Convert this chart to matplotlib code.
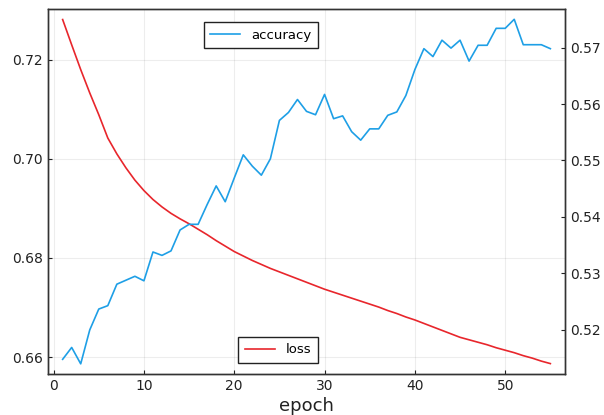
import matplotlib
matplotlib.use("Agg")
import matplotlib.pyplot as plt

# epochs 1..55
epochs = list(range(1, 56))

# training loss (left axis)
loss = [0.7281, 0.7230, 0.7180, 0.7133, 0.7089, 0.7042, 0.7010, 0.6982, 0.6957, 0.6936,
        0.6918, 0.6903, 0.6890, 0.6879, 0.6869, 0.6858, 0.6847, 0.6835, 0.6824, 0.6813,
        0.6804, 0.6795, 0.6787, 0.6779, 0.6772, 0.6765, 0.6758, 0.6751, 0.6744, 0.6737,
        0.6731, 0.6725, 0.6719, 0.6713, 0.6707, 0.6701, 0.6694, 0.6688, 0.6681, 0.6675,
        0.6668, 0.6661, 0.6654, 0.6647, 0.6640, 0.6635, 0.6630, 0.6625, 0.6619, 0.6614,
        0.6609, 0.6603, 0.6598, 0.6592, 0.6587]

# accuracy (right axis)
accuracy = [0.5148, 0.5169, 0.5140, 0.5200, 0.5237, 0.5243, 0.5281, 0.5288, 0.5295, 0.5287,
            0.5338, 0.5332, 0.5340, 0.5377, 0.5387, 0.5387, 0.5422, 0.5455, 0.5427, 0.5469,
            0.5510, 0.5490, 0.5474, 0.5503, 0.5571, 0.5585, 0.5608, 0.5587, 0.5581, 0.5617,
            0.5574, 0.5579, 0.5551, 0.5536, 0.5556, 0.5556, 0.5580, 0.5586, 0.5615, 0.5661,
            0.5698, 0.5684, 0.5713, 0.5699, 0.5713, 0.5676, 0.5704, 0.5704, 0.5734, 0.5734,
            0.5750, 0.5705, 0.5705, 0.5705, 0.5698]

xticks = [0, 10, 20, 30, 40, 50]
loss_ticks = [0.66, 0.68, 0.70, 0.72]
acc_ticks = [0.52, 0.53, 0.54, 0.55, 0.56, 0.57]

fig = plt.figure(figsize=(6.04, 4.15), dpi=100)
ax = fig.add_axes([0.0795, 0.0988, 0.8559, 0.8792])
ax2 = ax.twinx()

ax.plot(epochs, loss, color="#e8262c", lw=1.2, label="loss")
ax2.plot(epochs, accuracy, color="#1e9fe6", lw=1.2, label="accuracy")

ax.set_xlim(-0.62, 56.62)
ax.set_ylim(0.6566, 0.7302)
ax2.set_ylim(0.5122, 0.5768)

ax.set_xticks(xticks)
ax.set_yticks(loss_ticks)
ax.set_yticklabels([f"{v:.2f}" for v in loss_ticks])
ax2.set_yticks(acc_ticks)
ax2.set_yticklabels([f"{v:.2f}" for v in acc_ticks])

ax.grid(True, color="#000000", alpha=0.07, lw=0.8)
ax.set_axisbelow(True)

for a in (ax, ax2):
    a.tick_params(direction="in", length=3, width=0.8, labelsize=10, colors="#222222")
    for s in a.spines.values():
        s.set_color("#333333")
        s.set_linewidth(1.0)

ax.set_xlabel("epoch", fontsize=13, color="#222222", labelpad=3)

leg1 = ax2.legend(loc="upper right", bbox_to_anchor=(0.522, 0.964), fontsize=9.5,
                  fancybox=False, framealpha=1, edgecolor="#222222",
                  handlelength=2.3, borderpad=0.5, borderaxespad=0)
leg2 = ax.legend(loc="lower right", bbox_to_anchor=(0.522, 0.030), fontsize=9.5,
                 fancybox=False, framealpha=1, edgecolor="#222222",
                 handlelength=2.3, borderpad=0.5, borderaxespad=0)
for lg in (leg1, leg2):
    lg.get_frame().set_linewidth(1.0)

fig.savefig("out.png", dpi=100)
